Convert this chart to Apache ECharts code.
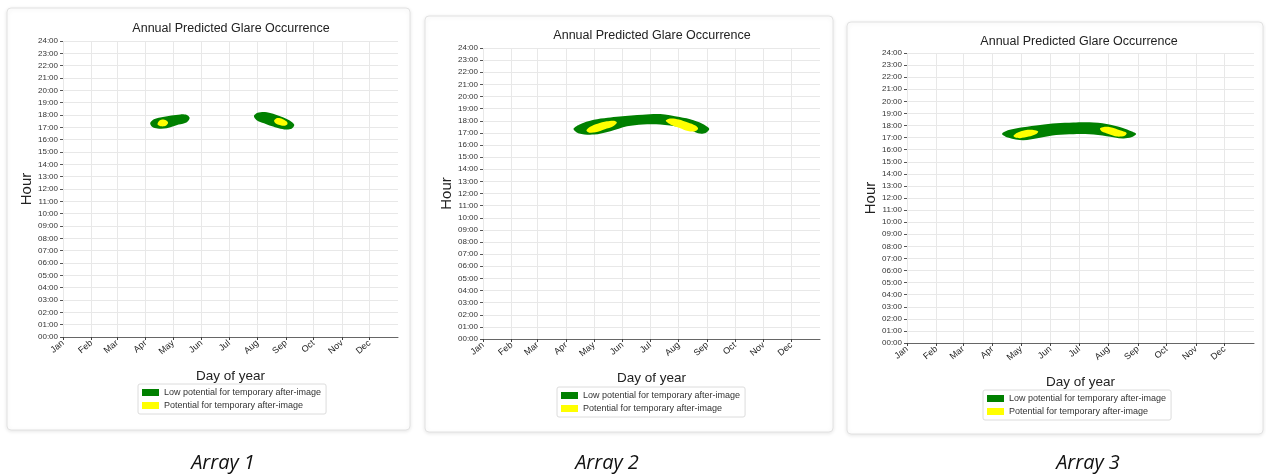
<!DOCTYPE html>
<html><head><meta charset="utf-8">
<script src="https://cdn.jsdelivr.net/npm/echarts@6/dist/echarts.min.js"></script>
<style>html,body{margin:0;padding:0;background:#fff}#c{width:1266px;height:475px}</style>
</head><body><div id="c"></div>
<script>
// ---- data ----
const monthLabels = ['Jan','Feb','Mar','Apr','May','Jun','Jul','Aug','Sep','Oct','Nov','Dec'];
const monthStartDays = [0,31,59,90,120,151,181,212,243,273,304,334];
const chartTitle = 'Annual Predicted Glare Occurrence';
const panelCaptions = ['Array 1','Array 2','Array 3'];
const xAxisName = 'Day of year';
const yAxisName = 'Hour';
const lowName = 'Low potential for temporary after-image';
const potName = 'Potential for temporary after-image';

// glare regions as outlines of [day of year, hour]
const array1Low = [
  [[95,17.35],[99,17.65],[106,17.8],[118,17.96],[128,18.05],[135,18.0],[138,17.75],[135,17.42],[126,17.22],[113,16.92],[103,16.9],[97,17.05]],
  [[208,17.92],[212,18.18],[220,18.25],[229,18.1],[238,17.85],[247,17.55],[252,17.2],[249,16.88],[243,16.82],[235,16.93],[227,17.1],[219,17.33],[211,17.58]]
];
const array1Potential = [
  [[103,17.3],[105.5,17.57],[109.5,17.63],[113.5,17.5],[114.5,17.35],[112,17.12],[107,17.08],[104,17.16]],
  [[230,17.55],[233.5,17.75],[239,17.68],[244,17.45],[244.5,17.25],[241,17.12],[235,17.2],[231,17.38]]
];
const array2Low = [
  [[98,17.32],[104,17.68],[120,18.08],[135,18.25],[148,18.35],[173,18.5],[192,18.55],[213,18.3],[228,18.05],[237,17.78],[245,17.35],
   [241,17.0],[234,16.95],[226,17.2],[213,17.5],[192,17.7],[173,17.7],[156,17.55],[138,17.14],[120,16.86],[104,16.95]]
];
const array2Potential = [
  [[112,17.2],[116,17.5],[124,17.75],[134,17.95],[142,18.0],[145,17.85],[141,17.55],[132,17.3],[122,17.05],[115,17.02]],
  [[198,18.0],[203,18.18],[212,18.1],[222,17.85],[230,17.6],[233,17.35],[229,17.12],[222,17.15],[213,17.4],[203,17.7]]
];
const array3Low = [
  [[100,17.3],[107,17.62],[122,17.86],[140,18.05],[157,18.18],[175,18.25],[192,18.26],[210,18.12],[227,17.8],[236,17.52],[241,17.3],
   [236,17.02],[227,16.93],[210,17.12],[192,17.27],[175,17.28],[157,17.21],[140,16.98],[122,16.78],[107,16.98]]
];
const array3Potential = [
  [[112,17.15],[116,17.4],[124,17.6],[133,17.63],[138,17.5],[136,17.3],[128,17.08],[119,16.95],[114,17.0]],
  [[203,17.75],[207,17.88],[214,17.85],[224,17.6],[231,17.38],[229,17.15],[221,17.08],[212,17.3],[205,17.5]]
];

// ---- layout ----
const FONT = 'Liberation Sans';
const GREEN = '#008000';
const YELLOW = '#ffff00';
const panels = [
  {grid:{left:63, top:41, width:335, height:296}, card:[7,8,403,422], title:[231,29], caption:[223,463], legend:[138,384], low:array1Low, pot:array1Potential},
  {grid:{left:483, top:48, width:337, height:291}, card:[425,16,408,416], title:[652,36], caption:[607,463], legend:[557,387], low:array2Low, pot:array2Potential},
  {grid:{left:907, top:53, width:347, height:290}, card:[847,22,416,412], title:[1079,42], caption:[1088,463], legend:[983,390], low:array3Low, pot:array3Potential}
];

function polyRender(polys){
  return function(params, api){
    const pts = polys[params.dataIndex].map(p => api.coord(p));
    return {type:'polygon', shape:{points:pts, smooth:0.3}, style:{fill: api.visual('color')}};
  };
}

const option = {animation:false, grid:[], xAxis:[], yAxis:[], series:[], legend:[], graphic:[]};
panels.forEach((p, i) => {
  option.grid.push(Object.assign({containLabel:false}, p.grid));
  option.xAxis.push({
    type:'value', gridIndex:i, min:0, max:365,
    name:xAxisName, nameLocation:'middle', nameGap:32,
    nameTextStyle:{fontFamily:FONT, fontSize:13.5, color:'#222'},
    axisLine:{show:true, lineStyle:{color:'#666', width:1}},
    axisTick:{show:true, length:3, customValues:monthStartDays, lineStyle:{color:'#444'}},
    axisLabel:{customValues:monthStartDays, rotate:40, fontFamily:FONT, fontSize:9, color:'#222', margin:5,
      formatter:v => monthLabels[monthStartDays.indexOf(v)] || ''},
    splitLine:{show:true, lineStyle:{color:'#e8e8e8', width:1}}
  });
  option.yAxis.push({
    type:'value', gridIndex:i, min:0, max:24, interval:1,
    name:yAxisName, nameLocation:'middle', nameGap:28, nameRotate:90,
    nameTextStyle:{fontFamily:FONT, fontSize:15, color:'#222'},
    axisLine:{show:false},
    axisTick:{show:true, length:3, lineStyle:{color:'#555'}},
    axisLabel:{fontFamily:FONT, fontSize:8, color:'#333', margin:5,
      formatter:v => (v < 10 ? '0' : '') + v + ':00'},
    splitLine:{show:true, lineStyle:{color:'#e8e8e8', width:1}}
  });
  option.series.push({
    type:'custom', name:lowName, xAxisIndex:i, yAxisIndex:i, z:2,
    itemStyle:{color:GREEN}, renderItem:polyRender(p.low), data:p.low.map(poly => poly[0])
  });
  option.series.push({
    type:'custom', name:potName, xAxisIndex:i, yAxisIndex:i, z:3,
    itemStyle:{color:YELLOW}, renderItem:polyRender(p.pot), data:p.pot.map(poly => poly[0])
  });
  option.legend.push({
    left:p.legend[0], top:p.legend[1], orient:'vertical', icon:'rect',
    itemWidth:17, itemHeight:7, itemGap:4, padding:[4,5,4,4],
    borderColor:'#dcdcdc', borderWidth:1, borderRadius:2,
    textStyle:{fontFamily:FONT, fontSize:9, color:'#333'},
    data:[lowName, potName], selectedMode:false
  });
  option.graphic.push({
    type:'rect', z:-10, shape:{x:p.card[0], y:p.card[1], width:p.card[2], height:p.card[3], r:4},
    style:{fill:'#fff', stroke:'#e2e2e2', lineWidth:1, shadowBlur:4, shadowColor:'rgba(0,0,0,0.10)', shadowOffsetY:1}
  });
  option.graphic.push({
    type:'text', z:10, x:p.title[0], y:p.title[1],
    style:{text:chartTitle, fontFamily:FONT, fontSize:12.5, fill:'#222', align:'center', verticalAlign:'middle'}
  });
  option.graphic.push({
    type:'text', z:10, x:p.caption[0], y:p.caption[1],
    style:{text:panelCaptions[i], fontFamily:'Open Sans', fontStyle:'italic', fontSize:20, fill:'#111', align:'center', verticalAlign:'middle'}
  });
});

const chart = echarts.init(document.getElementById('c'), null, {renderer:'canvas'});
chart.setOption(option);
</script>
</body></html>
